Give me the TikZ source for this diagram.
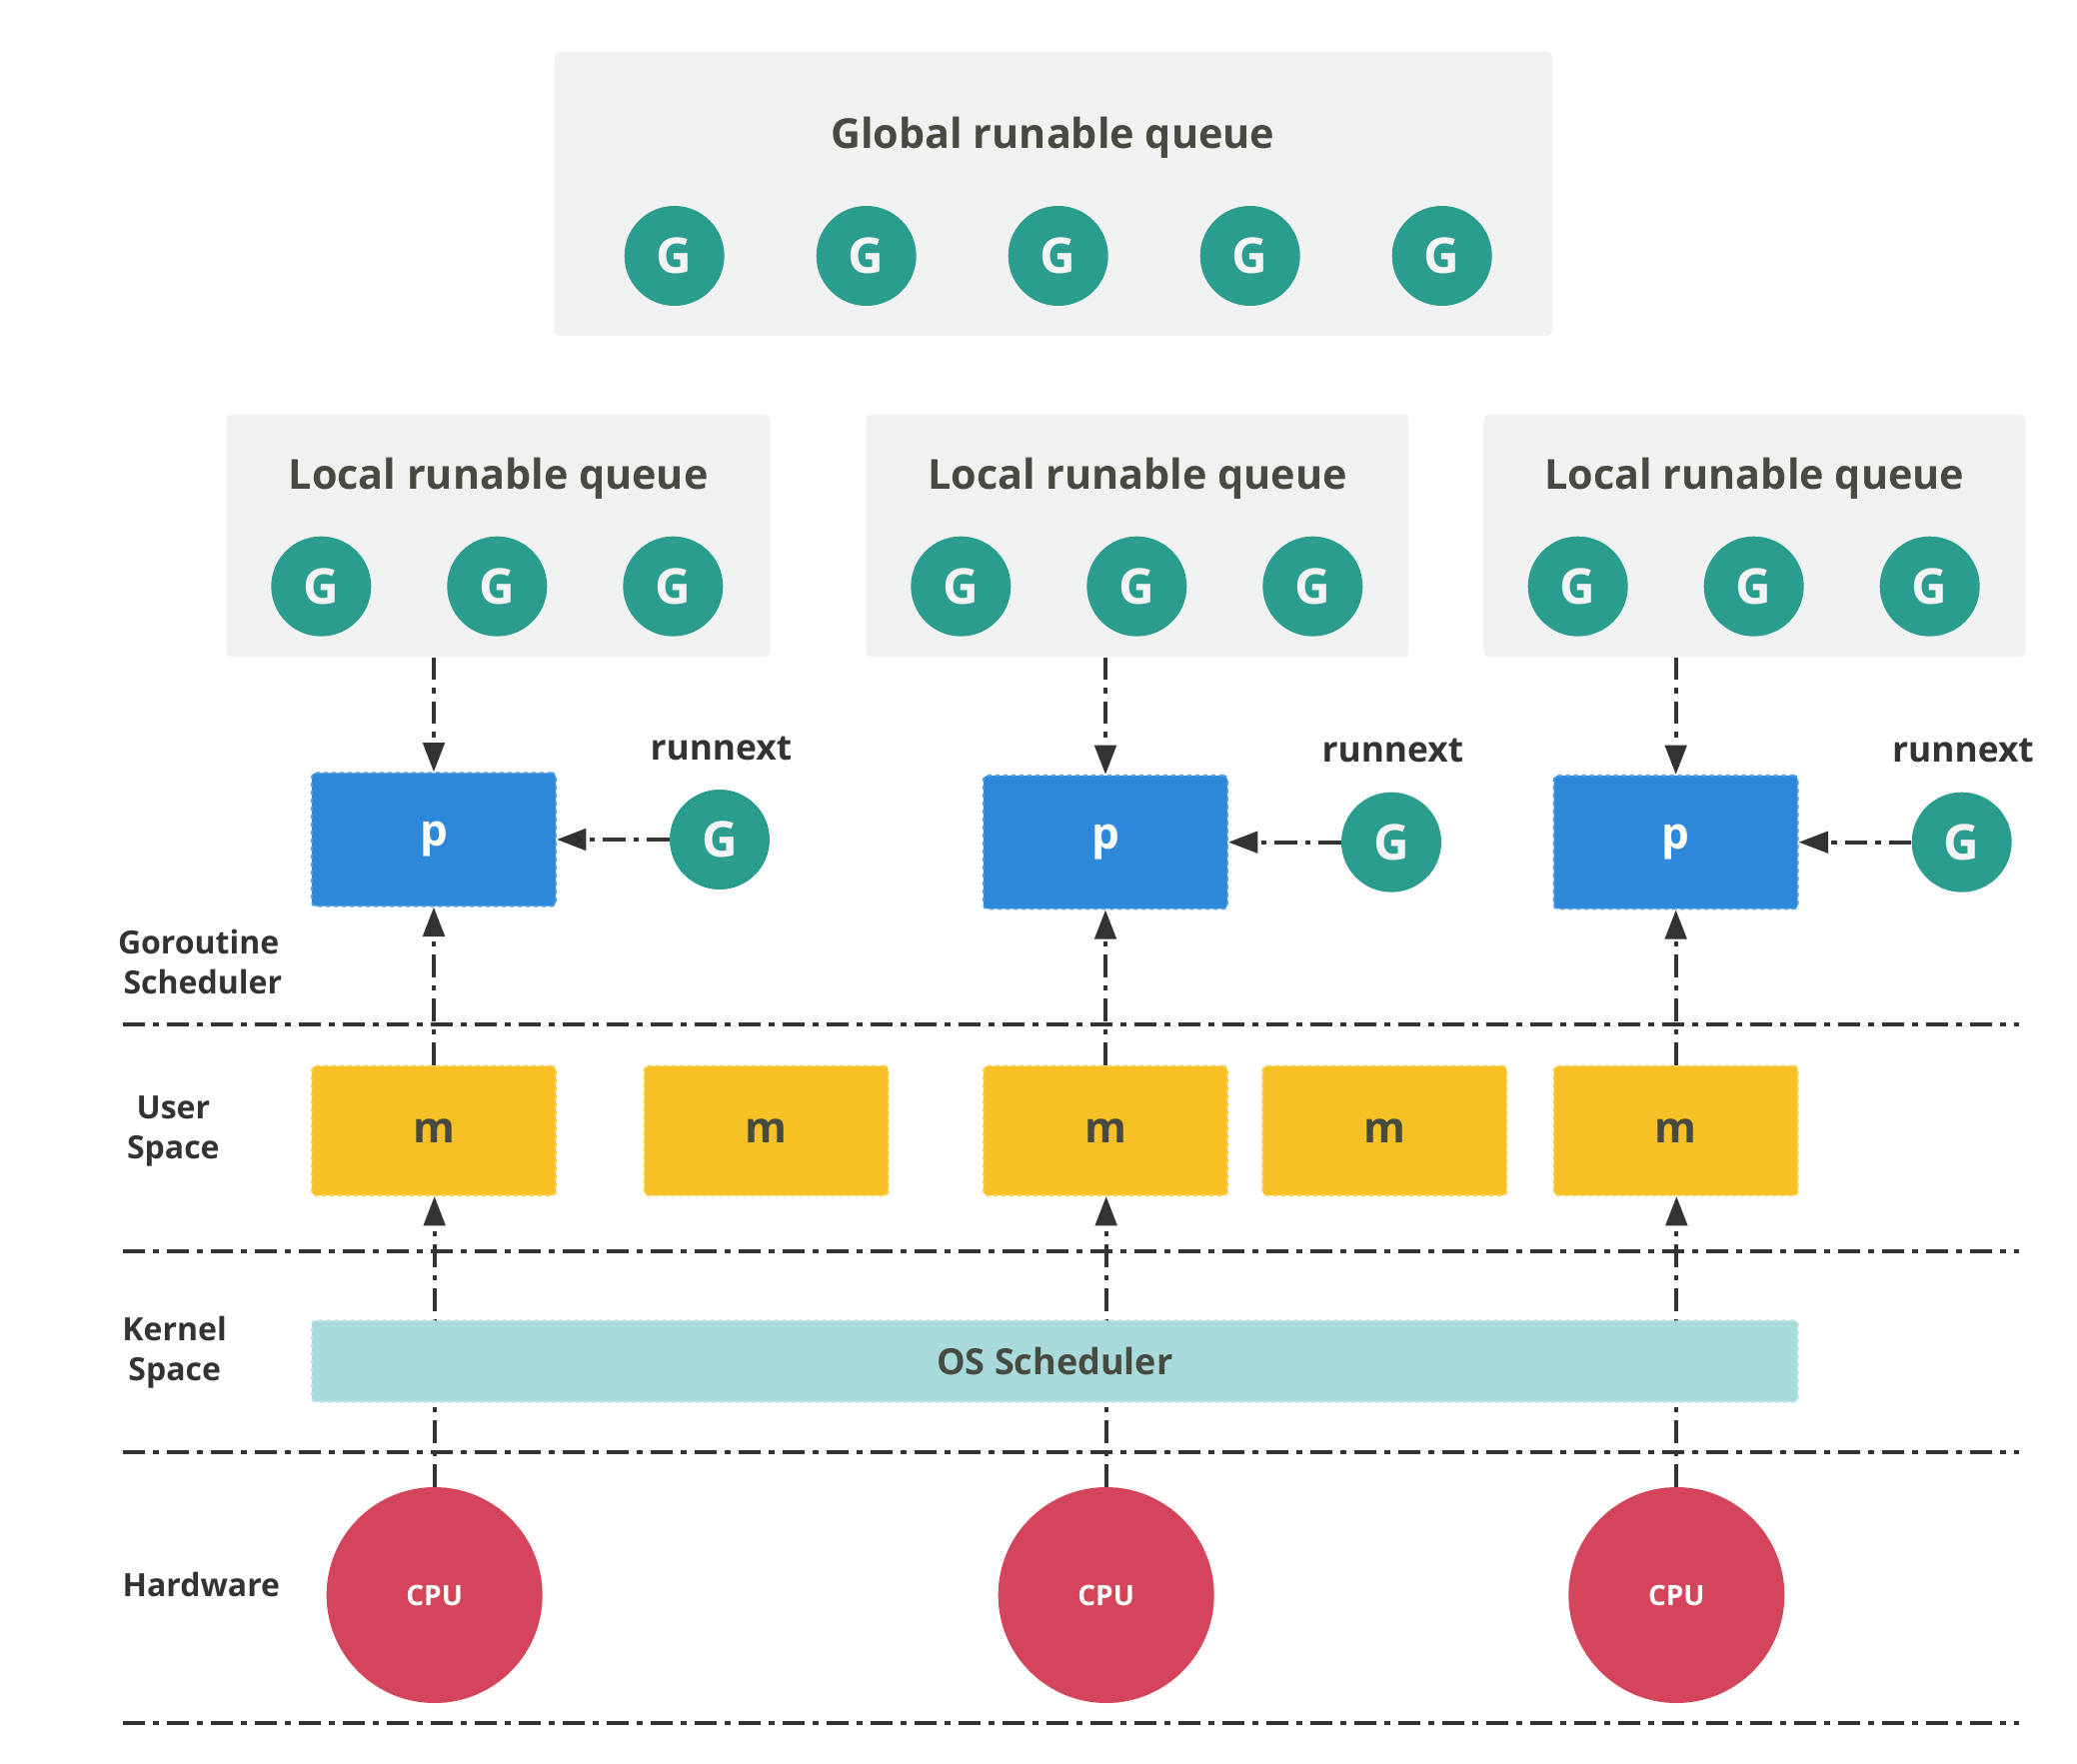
\documentclass[tikz,border=0pt]{standalone}
\usepackage{fontspec}
\setmainfont{Open Sans}[BoldFont={Open Sans Bold}]
\usetikzlibrary{arrows.meta,backgrounds}
\definecolor{qgray}{RGB}{240,242,241}
\definecolor{titlecol}{RGB}{70,74,64}
\definecolor{gteal}{RGB}{43,157,143}
\definecolor{gwhite}{RGB}{244,244,244}
\definecolor{pblue}{RGB}{46,136,217}
\definecolor{pblueb}{RGB}{72,158,232}
\definecolor{myellow}{RGB}{247,193,38}
\definecolor{myellowb}{RGB}{250,206,80}
\definecolor{osteal}{RGB}{168,218,220}
\definecolor{ostealb}{RGB}{185,228,230}
\definecolor{cpured}{RGB}{212,69,92}
\definecolor{lcol}{RGB}{51,51,51}
\definecolor{lblcol}{RGB}{51,51,51}
\begin{document}
\begin{tikzpicture}[x=1pt,y=-1pt,
  queue/.style={fill=qgray, rounded corners=4pt, inner sep=0pt},
  qtitle/.style={font=\bfseries\fontsize{31}{31}\selectfont, text=titlecol, inner sep=0pt},
  gnode/.style={circle, fill=gteal, minimum size=75pt, inner sep=0pt, text=gwhite, font=\bfseries\fontsize{37}{37}\selectfont},
  pbox/.style={rectangle, fill=pblue, draw=pblueb, dashed, line width=1.5pt, rounded corners=3pt, minimum width=183pt, minimum height=100pt, inner sep=0pt, text=white, font=\bfseries\fontsize{33}{33}\selectfont},
  mbox/.style={rectangle, fill=myellow, draw=myellowb, dashed, line width=1.5pt, rounded corners=3pt, minimum width=183pt, minimum height=97pt, inner sep=0pt, text=titlecol, font=\bfseries\fontsize{32}{32}\selectfont},
  osbox/.style={rectangle, fill=osteal, draw=ostealb, dashed, line width=1.5pt, rounded corners=3pt, minimum width=1115pt, minimum height=61pt, inner sep=0pt, text=titlecol, font=\bfseries\fontsize{27}{27}\selectfont},
  cpunode/.style={circle, fill=cpured, minimum size=162pt, inner sep=0pt, text=white, font=\bfseries\fontsize{21}{21}\selectfont},
  lbl/.style={font=\bfseries\fontsize{24}{30}\selectfont, text=lblcol, align=center, inner sep=0pt},
  rnlbl/.style={font=\bfseries\fontsize{26.5}{26.5}\selectfont, text=lblcol, inner sep=0pt},
  flow/.style={draw=lcol, line width=3pt, dash pattern=on 17pt off 6pt on 4pt off 6pt, -{Triangle[length=22pt,width=16pt]}},
  sepline/.style={draw=lcol, line width=3pt, dash pattern=on 17pt off 6pt on 4pt off 6pt}
]
\begin{scope}[on background layer]
\fill[white] (0,0) rectangle (1558.5,1323);
\end{scope}
\useasboundingbox (0,0) rectangle (1558.5,1323);

% Global queue
\node[queue, minimum width=749pt, minimum height=213pt] (gq) at (790.5,145.5) {};
\node[qtitle] (gqt) at (790,103) {Global runable queue};
\node[gnode] (gg1) at (506,192) {G};
\node[gnode] (gg2) at (650,192) {G};
\node[gnode] (gg3) at (794,192) {G};
\node[gnode] (gg4) at (938,192) {G};
\node[gnode] (gg5) at (1082,192) {G};

% Local queues
\node[queue, minimum width=408pt, minimum height=182pt] (lq1) at (374,402) {};
\node[queue, minimum width=407pt, minimum height=182pt] (lq2) at (853.5,402) {};
\node[queue, minimum width=407pt, minimum height=182pt] (lq3) at (1316.5,402) {};
\node[qtitle] (lqt1) at (374,359) {Local runable queue};
\node[qtitle] (lqt2) at (853.5,359) {Local runable queue};
\node[qtitle] (lqt3) at (1316.5,359) {Local runable queue};
\node[gnode] (la1) at (241,440) {G};
\node[gnode] (la2) at (373,440) {G};
\node[gnode] (la3) at (505,440) {G};
\node[gnode] (lb1) at (721,440) {G};
\node[gnode] (lb2) at (853,440) {G};
\node[gnode] (lb3) at (985,440) {G};
\node[gnode] (lc1) at (1184,440) {G};
\node[gnode] (lc2) at (1316,440) {G};
\node[gnode] (lc3) at (1448,440) {G};

% p boxes
\node[pbox] (p1) at (325.5,630) {p};
\node[pbox] (p2) at (829.5,632) {p};
\node[pbox] (p3) at (1257.5,632) {p};

% runnext
\node[rnlbl] (rn1) at (541,562) {runnext};
\node[rnlbl] (rn2) at (1045,563) {runnext};
\node[rnlbl] (rn3) at (1473,563) {runnext};
\node[gnode] (rg1) at (540,630) {G};
\node[gnode] (rg2) at (1044,632) {G};
\node[gnode] (rg3) at (1472,632) {G};

% m boxes
\node[mbox] (m1) at (325.5,848.5) {m};
\node[mbox] (m2) at (575,848.5) {m};
\node[mbox] (m3) at (829.5,848.5) {m};
\node[mbox] (m4) at (1039,848.5) {m};
\node[mbox] (m5) at (1257.5,848.5) {m};

% OS scheduler
\node[osbox] (os) at (791.5,1021.5) {OS Scheduler};

% CPUs
\node[cpunode] (c1) at (326,1197) {CPU};
\node[cpunode] (c2) at (830,1197) {CPU};
\node[cpunode] (c3) at (1258,1197) {CPU};

% layer labels
\node[lbl] (l1) at (149,722) {Goroutine\\\ Scheduler};
\node[lbl] (l2) at (130,849) {User\\Space};
\node[lbl] (l3) at (131,1015) {Kernel\\Space};
\node[lbl] (l4) at (151,1189) {Hardware};

% separators
\draw[sepline] (92,769) -- (1515,769);
\draw[sepline] (92,939) -- (1515,939);
\draw[sepline] (92,1090) -- (1515,1090);
\draw[sepline] (92,1293) -- (1515,1293);

% connectors
\begin{scope}[on background layer]
\draw[flow] (lq1.south -| p1.north) -- (p1.north);
\draw[flow] (lq2.south -| p2.north) -- (p2.north);
\draw[flow] (lq3.south -| p3.north) -- (p3.north);
\draw[flow] (rg1.west) -- (p1.east);
\draw[flow] (rg2.west) -- (p2.east);
\draw[flow] (rg3.west) -- (p3.east);
\draw[flow] (m1.north) -- (p1.south);
\draw[flow] (m3.north) -- (p2.south);
\draw[flow] (m5.north) -- (p3.south);
\draw[flow] (c1.north) -- (c1.north |- m1.south);
\draw[flow] (c2.north) -- (c2.north |- m3.south);
\draw[flow] (c3.north) -- (c3.north |- m5.south);
\end{scope}
\end{tikzpicture}
\end{document}
